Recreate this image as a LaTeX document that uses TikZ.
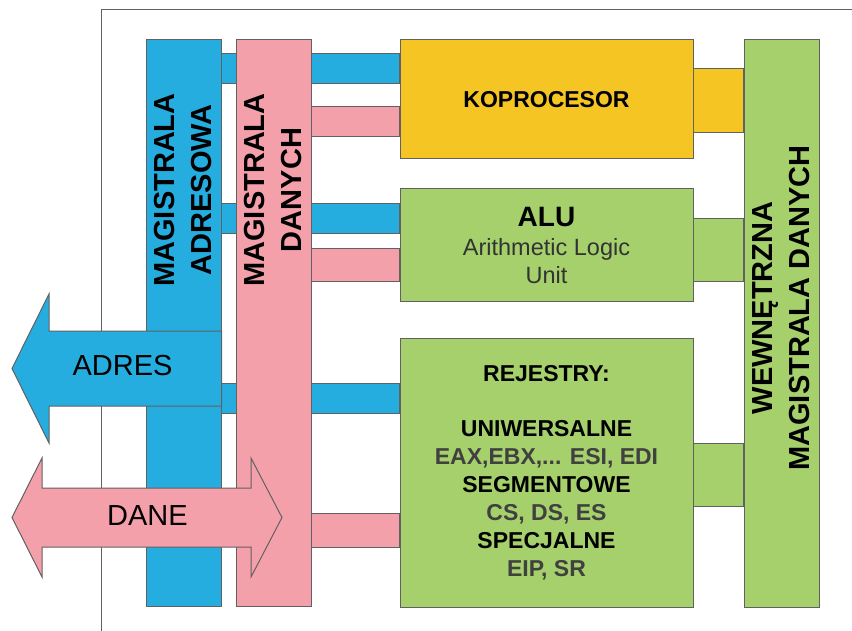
\documentclass[tikz,border=0pt]{standalone}
\usepackage{fontspec}
\setmainfont{Liberation Sans}
\usepackage{tikz}
\usetikzlibrary{positioning,calc}
\definecolor{kolAdres}{HTML}{25ADE0}
\definecolor{kolDane}{HTML}{F4A0AB}
\definecolor{kolKopro}{HTML}{F5C523}
\definecolor{kolZielony}{HTML}{A5D06B}
\colorlet{kolRamka}{black!62}

\begin{document}
\begin{tikzpicture}[x=1pt, y=-1pt,
        krawedz/.style={draw=kolRamka, line width=1pt},
        magistrala/.style={rectangle, krawedz, inner sep=0pt, minimum width=75pt},
        blok/.style={rectangle, krawedz, inner sep=0pt, minimum width=293pt, align=center},
        napisMag/.style={rotate=90, align=center, font=\fontsize{29}{37}\selectfont\bfseries},
        napisStrz/.style={inner sep=0pt, font=\fontsize{29}{34}\selectfont}
    ]
        \useasboundingbox (0,0) rectangle (852,631);
        \draw[krawedz] (101,631) -- (101,10) -- (852,10);

        % magistrale
        \node[magistrala, fill=kolAdres, minimum height=566pt] (adresowa) at (183.5,323) {};
        \node[magistrala, fill=kolZielony, minimum height=567pt] (wewn) at (781.5,323.5) {};

        % bloki
        \node[blok, fill=kolKopro, minimum height=119pt, font=\fontsize{23}{28}\selectfont\bfseries]
            (kopro) at (546.5,99.5) {KOPROCESOR};
        \node[blok, fill=kolZielony, minimum height=113pt, font=\fontsize{23.5}{28.5}\selectfont]
            (alu) at (546.5,245.5) {{\fontsize{28}{28.5}\selectfont\bfseries ALU}\\
            {\color{black!80}Arithmetic Logic}\\{\color{black!80}Unit}};
        \node[blok, fill=kolZielony, minimum height=269pt, font=\fontsize{23}{27.9}\selectfont\bfseries]
            (rej) at (546.5,472.5) {REJESTRY:\\[27.9pt]
            UNIWERSALNE\\{\color{black!75}EAX,EBX,... ESI, EDI}\\
            SEGMENTOWE\\{\color{black!75}CS, DS, ES}\\
            SPECJALNE\\{\color{black!75}EIP, SR}};

        % lacza adresowe (pod magistrala danych)
        \draw[krawedz, fill=kolAdres] (adresowa.east |- 0,54) rectangle (kopro.west |- 0,84);
        \draw[krawedz, fill=kolAdres] (adresowa.east |- 0,204) rectangle (alu.west |- 0,234);
        \draw[krawedz, fill=kolAdres] (adresowa.east |- 0,383) rectangle (rej.west |- 0,413);

        \node[magistrala, fill=kolDane, minimum height=566pt] (danych) at (273.5,323) {};

        % lacza danych
        \draw[krawedz, fill=kolDane] (danych.east |- 0,107) rectangle (kopro.west |- 0,137);
        \draw[krawedz, fill=kolDane] (danych.east |- 0,249) rectangle (alu.west |- 0,282);
        \draw[krawedz, fill=kolDane] (danych.east |- 0,513) rectangle (rej.west |- 0,547);

        % lacza wewnetrzne
        \draw[krawedz, fill=kolKopro] (kopro.east |- 0,69) rectangle (wewn.west |- 0,133);
        \draw[krawedz, fill=kolZielony] (alu.east |- 0,219) rectangle (wewn.west |- 0,282);
        \draw[krawedz, fill=kolZielony] (rej.east |- 0,443) rectangle (wewn.west |- 0,506);

        % strzalki
        \draw[krawedz, fill=kolAdres] (adresowa.east |- 0,331) -- (49,331) -- (49,294) -- (12,368.5)
            -- (49,443) -- (49,406) -- (adresowa.east |- 0,406) -- cycle;
        \draw[krawedz, fill=kolDane] (12,517.5) -- (42,458) -- (42,488) -- (251,488) -- (251,458)
            -- (282,517.5) -- (251,577) -- (251,547) -- (42,547) -- (42,577) -- cycle;

        % napisy
        \node[napisMag] (napisAdr) at (adresowa |- 0,190) {MAGISTRALA\\ADRESOWA};
        \node[napisMag] (napisDan) at (danych |- 0,190) {MAGISTRALA\\DANYCH};
        \node[napisMag] (napisWewn) at (wewn |- 0,308) {WEWNĘTRZNA\\MAGISTRALA DANYCH};
        \node[napisStrz] (adres) at (122.5,365.5) {ADRES};
        \node[napisStrz] (dane) at (147.5,515.5) {DANE};
    \end{tikzpicture}
\end{document}
